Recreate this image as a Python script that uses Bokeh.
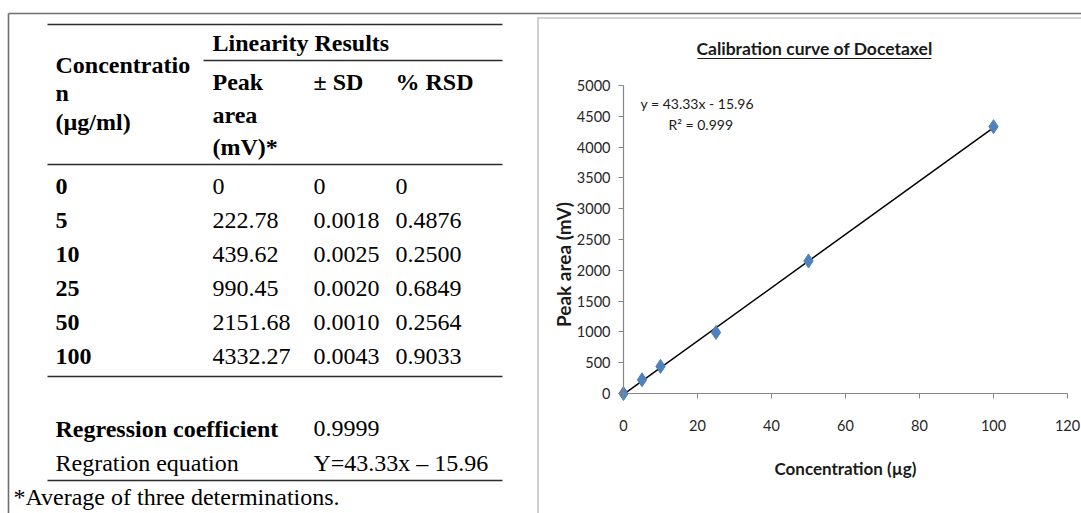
import numpy as np
from bokeh.plotting import figure
from bokeh.models import Range1d, LinearAxis, FixedTicker
from bokeh.core.properties import value
from bokeh.embed import file_html
from bokeh.resources import INLINE

# ---- linearity data -------------------------------------------------------
concentrations = [0, 5, 10, 25, 50, 100]                      # µg/ml
peak_areas = [0, 222.78, 439.62, 990.45, 2151.68, 4332.27]     # mV (mean of 3)
sd_values = ["0", "0.0018", "0.0025", "0.0020", "0.0010", "0.0043"]
rsd_values = ["0", "0.4876", "0.2500", "0.6849", "0.2564", "0.9033"]

slope = 43.33
intercept = -15.96
r_squared = 0.999
regression_coefficient = "0.9999"

x_ticks = [0, 20, 40, 60, 80, 100, 120]
y_ticks = [0, 500, 1000, 1500, 2000, 2500, 3000, 3500, 4000, 4500, 5000]

# ---- page geometry (pixels) ------------------------------------------------
W, H = 1081, 513
AX_X0, AX_X1 = 623, 1067      # plot area left/right (x = 0 .. 120)
AX_Y0, AX_Y1 = 393, 85        # plot area bottom/top (y = 0 .. 5000)
X_MAX, Y_MAX = 120, 5000
KX = X_MAX / (AX_X1 - AX_X0)
KY = Y_MAX / (AX_Y0 - AX_Y1)


def dx(px):
    """page pixel column -> concentration units"""
    return (np.asarray(px, dtype=float) - AX_X0) * KX


def dy(py):
    """page pixel row (from top) -> peak-area units"""
    return (AX_Y0 - np.asarray(py, dtype=float)) * KY


SERIF = value("Liberation Serif")
SANS = value("Lato")
FRAME_DARK = "#6e6e6e"
FRAME_LIGHT = "#c4c4c4"
RULE = "#2b2b2b"
INK = "#1a1a1a"

p = figure(width=W, height=H, x_range=Range1d(dx(0), dx(W)), y_range=Range1d(dy(H), dy(0)),
           output_backend="svg", toolbar_location=None, min_border=0,
           x_axis_location=None, y_axis_location=None)
p.grid.visible = False
p.outline_line_color = None
p.background_fill_color = "white"
p.border_fill_color = "white"


def hline(x0, x1, y, color, width):
    p.segment(x0=dx([x0]), y0=dy([y]), x1=dx([x1]), y1=dy([y]),
              line_color=color, line_width=width)


def vline(x, y0, y1, color, width):
    p.segment(x0=dx([x]), y0=dy([y0]), x1=dx([x]), y1=dy([y1]),
              line_color=color, line_width=width)


# ---- frames -----------------------------------------------------------------
hline(8, W, 13, FRAME_DARK, 1.6)
vline(8, 13, H, FRAME_DARK, 1.6)
hline(537, W, 17.5, FRAME_LIGHT, 1.6)
vline(537.5, 17, H, FRAME_LIGHT, 1.6)

# ---- results table ------------------------------------------------------------
for y in (24, 164, 376, 480):
    hline(47, 502, y, RULE, 1.3)
hline(203, 502, 60, RULE, 1.3)

col_x = [55, 212, 313, 395]
FS = "24px"


def put(xs, ys, texts, bold=False):
    p.text(x=dx(xs), y=dy(ys), text=texts, text_font=SERIF, text_font_size=FS,
           text_font_style="bold" if bold else "normal",
           text_baseline="middle", text_align="left", text_color="black")


put([col_x[1]], [42], ["Linearity Results"], bold=True)
put([col_x[0]] * 3, [64, 92, 121], ["Concentratio", "n", "(µg/ml)"], bold=True)
put([col_x[1]] * 3, [81, 114, 146], ["Peak", "area", "(mV)*"], bold=True)
put([col_x[2], col_x[3]], [81, 81], ["± SD", "% RSD"], bold=True)

row_y = [186 + 34 * i for i in range(len(concentrations))]
peak_text = ["0" if v == 0 else f"{v:.2f}" for v in peak_areas]
put([col_x[0]] * len(row_y), row_y, [str(c) for c in concentrations], bold=True)
put([col_x[1]] * len(row_y), row_y, peak_text)
put([col_x[2]] * len(row_y), row_y, sd_values)
put([col_x[3]] * len(row_y), row_y, rsd_values)

put([col_x[0]], [428], ["Regression coefficient"], bold=True)
put([col_x[2]], [428], [regression_coefficient])
put([col_x[0]], [462], ["Regration equation"])
put([col_x[2]], [462], [f"Y={slope:.2f}x – {abs(intercept):.2f}"])
put([13], [496], ["*Average of three determinations."])

# ---- calibration chart -------------------------------------------------------
def sans(xs, ys, texts, size, bold=False, align="left", angle=0.0, color=INK):
    p.text(x=dx(xs), y=dy(ys), text=texts, text_font=SANS, text_font_size=size,
           text_font_style="bold" if bold else "normal", text_align=align,
           text_baseline="middle", angle=angle, text_color=color)


# title with underline
sans([814], [48], ["Calibration curve of Docetaxel"], "17.5px", bold=True, align="center")
hline(697, 931, 58, INK, 1.2)

for loc, side, ticks, bnds in ((0, "below", x_ticks, (0, X_MAX)),
                               (0, "left", y_ticks, (0, Y_MAX))):
    ax = LinearAxis(fixed_location=loc, bounds=bnds, ticker=FixedTicker(ticks=ticks))
    ax.axis_line_color = "#868686"
    ax.axis_line_width = 1.2
    ax.major_tick_line_color = "#868686"
    ax.major_tick_in = 0
    ax.major_tick_out = 5
    ax.minor_tick_line_color = None
    ax.major_label_text_font = "Lato"
    ax.major_label_text_font_size = "14.5px"
    ax.major_label_text_color = "#262626"
    ax.major_label_standoff = 21 if side == "below" else 8
    p.add_layout(ax, side)

# axis titles
sans([845], [468], ["Concentration (µg)"], "17px", bold=True, align="center")
sans([563], [264], ["Peak area (mV)"], "19px", bold=True, align="center", angle=np.pi / 2)

# linear trendline from the fitted equation
fit_x = np.array([0, 100])
fit_y = slope * fit_x + intercept
p.line(fit_x, fit_y, line_color="black", line_width=1.5)

p.scatter(concentrations, peak_areas, marker="diamond", size=14,
          fill_color="#4F81BD", line_color="#4F81BD")

# equation and R² annotation
sans([640], [103], [f"y = {slope:.2f}x - {abs(intercept):.2f}"], "14px")
sans([668], [124], [f"R² = {r_squared:.3f}"], "14px")

open("out.html", "w").write(file_html(p, INLINE))
